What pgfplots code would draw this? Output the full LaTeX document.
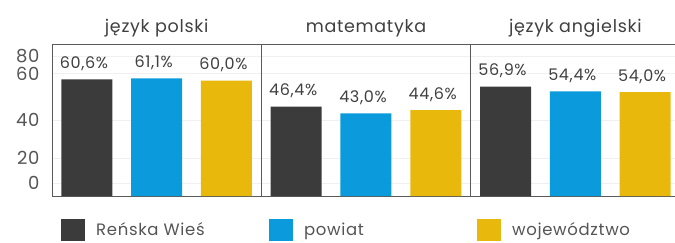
\documentclass[border=0pt]{standalone}
\usepackage{pgfplots}
\pgfplotsset{compat=1.18}
\usepackage{fontspec}
\setmainfont{Poppins}[LetterSpace=4]
\definecolor{cdark}{HTML}{3B3B3B}
\definecolor{cblue}{HTML}{0B9BDC}
\definecolor{cyel}{HTML}{E9B80C}
\definecolor{ctext}{HTML}{404040}
\definecolor{cgray}{HTML}{555555}
\definecolor{caxis}{HTML}{5A5A5A}
\begin{document}
\begin{tikzpicture}[x=1pt,y=1pt]
\useasboundingbox (0,0) rectangle (675,242);
\begin{axis}[
  at={(52pt,46pt)}, anchor=south west,
  scale only axis, width=628pt, height=152pt,
  xmin=-0.5, xmax=8.5, ymin=0, ymax=79,
  clip=false,
  /pgf/number format/assume math mode=true,
  axis line style={draw=caxis, line width=0.8pt},
  xtick=\empty,
  extra x ticks={2.5,5.5}, extra x tick labels={},
  extra x tick style={grid=major, major grid style={draw=caxis, line width=0.8pt}, major tick length=0pt},
  ytick={6.7,19.7,39.4,63.7,72.5},
  yticklabels={0,20,40,60,80},
  major tick length=0pt,
  ymajorgrids, major grid style={draw=black!6, line width=0.5pt},
  yticklabel style={font=\fontsize{18}{18}\selectfont, text=cgray, xshift=-9pt},
  ybar, bar width=51pt, bar shift=0pt,
  nodes near coords={\pgfmathprintnumber[fixed,fixed zerofill,precision=1,use comma,assume math mode=true]{\pgfplotspointmeta}\%},
  every node near coord/.append style={font=\fontsize{16}{16}\selectfont, text=ctext, anchor=base, yshift=11pt, xshift=-3pt},
  legend columns=3,
  legend style={at={(axis description cs:0,0)}, anchor=west, xshift=9pt, yshift=-34pt, draw=none, inner sep=0pt, font=\fontsize{16.5}{16.5}\selectfont, text=cgray, /tikz/every even column/.append style={column sep=0pt}},
  legend image code/.code={\fill[#1,draw=none] (0pt,-11pt) rectangle (24pt,11pt);},
]
\addplot[fill=cdark, draw=none] coordinates {(0,60.6) (3,46.4) (6,56.9)};
\addlegendentry{\makebox[180pt][l]{\hspace*{9pt}Reńska Wieś}}
\addplot[fill=cblue, draw=none] coordinates {(1,61.1) (4,43.0) (7,54.4)};
\addlegendentry{\makebox[180pt][l]{\hspace*{9pt}powiat}}
\addplot[fill=cyel, draw=none] coordinates {(2,60.0) (5,44.6) (8,54.0)};
\addlegendentry{\hspace*{9pt}województwo}
\node[font=\fontsize{17.5}{17.5}\selectfont, text=ctext, anchor=base] at (axis cs:1,79) [yshift=12pt] {język polski};
\node[font=\fontsize{17.5}{17.5}\selectfont, text=ctext, anchor=base] at (axis cs:4,79) [yshift=12pt] {matematyka};
\node[font=\fontsize{17.5}{17.5}\selectfont, text=ctext, anchor=base] at (axis cs:7,79) [yshift=12pt] {język angielski};
\end{axis}
\end{tikzpicture}
\end{document}
